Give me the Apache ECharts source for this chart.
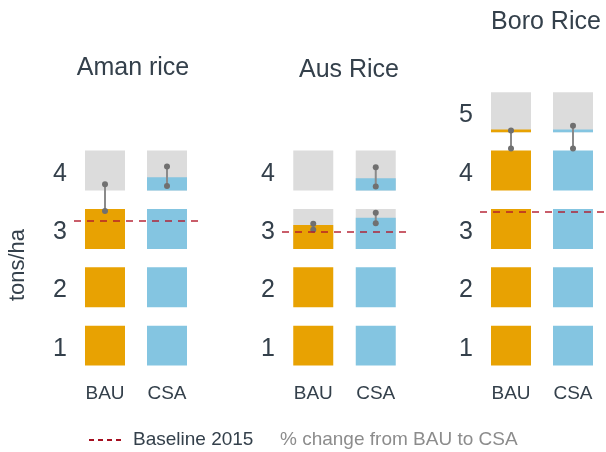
<!DOCTYPE html>
<html>
<head>
<meta charset="utf-8">
<script src="https://cdn.jsdelivr.net/npm/echarts@6/dist/echarts.min.js"></script>
<style>
html, body { margin: 0; padding: 0; background: #fff; }
#chart { width: 606px; height: 452px; }
</style>
</head>
<body>
<div id="chart"></div>
<script>
var panelNames = ['Aman rice', 'Aus Rice', 'Boro Rice'];
var scenarios = ['BAU', 'CSA'];
var yTicks = [[1, 2, 3, 4], [1, 2, 3, 4], [1, 2, 3, 4, 5]];
// filled share of each 1 ton block, bottom to top
var bauBlocks = [[1, 1, 1, 0], [1, 1, 0.6, 0], [1, 1, 1, 1, 0.07]];
var csaBlocks = [[1, 1, 1, 0.33], [1, 1, 0.78, 0.31], [1, 1, 1, 1, 0.07]];
var baseline2015 = [3.2, 3.0, 3.34];
// change whiskers: [scenario, from, to]
var changeAman = [[0, 3.36, 3.82], [1, 3.79, 4.12]];
var changeAus = [[0, 3.04, 3.14], [1, 3.15, 3.33], [1, 3.78, 4.11]];
var changeBoro = [[0, 4.43, 4.74], [1, 4.43, 4.82]];
var changes = [changeAman, changeAus, changeBoro];

var chartDom = document.getElementById('chart');
var chart = echarts.init(chartDom);

var font = 'Liberation Sans, Arial, Helvetica, sans-serif';
var textColor = '#34404b';
var colors = ['#e8a202', '#84c5e1'];
var grey = '#dcdcdc';
var blockLo = 0.29, blockHi = 0.395;

var gridLeft = [74, 282, 480];
var gridWidth = [124, 125, 124];
var titlePos = [[133, 68], [349, 70], [546, 22]];

function renderBlock(params, api) {
    var s = api.value(0), k = api.value(1), frac = api.value(2);
    var top = api.coord([s, k + blockHi]);
    var bot = api.coord([s, k - blockLo]);
    var w = 40;
    var h = bot[1] - top[1];
    var x = top[0] - w / 2;
    var children = [];
    if (frac < 1) {
        children.push({ type: 'rect', shape: { x: x, y: top[1], width: w, height: h }, style: { fill: grey } });
    }
    if (frac > 0) {
        children.push({ type: 'rect', shape: { x: x, y: bot[1] - h * frac, width: w, height: h * frac }, style: { fill: colors[s] } });
    }
    return { type: 'group', children: children };
}

function renderChange(params, api) {
    var a = api.coord([api.value(0), api.value(1)]);
    var b = api.coord([api.value(0), api.value(2)]);
    return {
        type: 'group',
        children: [
            { type: 'line', shape: { x1: a[0], y1: a[1], x2: b[0], y2: b[1] }, style: { stroke: '#8a8a8a', lineWidth: 2 } },
            { type: 'circle', shape: { cx: a[0], cy: a[1], r: 3 }, style: { fill: '#707070' } },
            { type: 'circle', shape: { cx: b[0], cy: b[1], r: 3 }, style: { fill: '#707070' } }
        ]
    };
}

var grids = [], xAxes = [], yAxes = [], series = [], graphics = [];

panelNames.forEach(function (name, p) {
    grids.push({ left: gridLeft[p], width: gridWidth[p], top: 86.1, height: 291.75, outerBoundsMode: 'none' });
    xAxes.push({
        type: 'category', gridIndex: p, data: scenarios,
        axisLine: { show: false }, axisTick: { show: false },
        axisLabel: { fontSize: 19, color: textColor, fontFamily: font, margin: 6 }
    });
    yAxes.push({
        type: 'value', gridIndex: p, min: 0.5, max: 5.5,
        axisLine: { show: false }, axisTick: { show: false }, splitLine: { show: false },
        axisLabel: { customValues: yTicks[p], fontSize: 25, color: textColor, fontFamily: font, margin: 7, padding: [6, 0, 0, 0] }
    });

    var blocks = [];
    bauBlocks[p].forEach(function (f, i) { blocks.push([0, i + 1, f]); });
    csaBlocks[p].forEach(function (f, i) { blocks.push([1, i + 1, f]); });

    series.push({
        type: 'custom', xAxisIndex: p, yAxisIndex: p,
        renderItem: renderBlock, data: blocks,
        encode: { x: 0, y: 1 },
        markLine: {
            silent: true, symbol: ['none', 'none'], label: { show: false },
            lineStyle: { color: 'rgba(178,24,43,0.7)', width: 2, type: [7, 6] },
            data: [{ yAxis: baseline2015[p] }]
        }
    });
    series.push({
        type: 'custom', xAxisIndex: p, yAxisIndex: p,
        renderItem: renderChange, data: changes[p],
        encode: { x: 0, y: [1, 2] }
    });

    graphics.push({
        type: 'text', x: titlePos[p][0], y: titlePos[p][1],
        style: { text: name, font: '25px ' + font, fill: textColor, align: 'center', verticalAlign: 'middle' }
    });
});

graphics.push({
    type: 'text', x: 18, y: 265, rotation: Math.PI / 2,
    style: { text: 'tons/ha', font: '22px ' + font, fill: textColor, align: 'center', verticalAlign: 'middle' }
});
graphics.push({
    type: 'line', shape: { x1: 89, y1: 440, x2: 125, y2: 440 },
    style: { stroke: '#a50f20', lineWidth: 2, lineDash: [5, 4] }
});
graphics.push({
    type: 'text', x: 133, y: 440,
    style: { text: 'Baseline 2015', font: '19px ' + font, fill: textColor, align: 'left', verticalAlign: 'middle' }
});
graphics.push({
    type: 'text', x: 280, y: 440,
    style: { text: '% change from BAU to CSA', font: '19px ' + font, fill: '#8c8c8c', align: 'left', verticalAlign: 'middle' }
});

var option = {
    animation: false,
    grid: grids,
    xAxis: xAxes,
    yAxis: yAxes,
    series: series,
    graphic: graphics
};
chart.setOption(option);
</script>
</body>
</html>
